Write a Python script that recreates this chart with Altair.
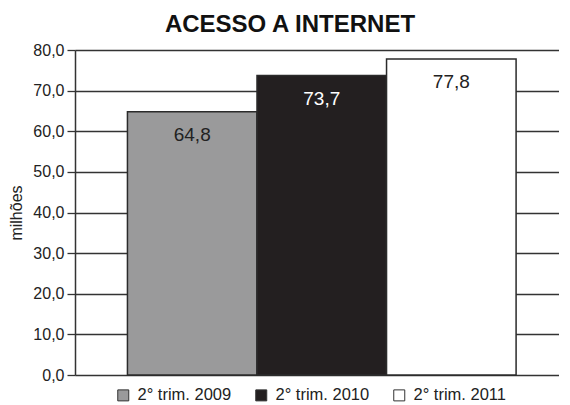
import altair as alt
import pandas as pd

periods = ["2° trim. 2009", "2° trim. 2010", "2° trim. 2011"]
values = [64.8, 73.7, 77.8]
fill_colors = ["#9a9a9b", "#231f20", "#ffffff"]
y_ticks = [0, 10, 20, 30, 40, 50, 60, 70, 80]

df = pd.DataFrame({"periodo": periods, "valor": values})

FONT = "Liberation Sans"

x_enc = alt.X(
    "periodo:N",
    sort=periods,
    axis=None,
    scale=alt.Scale(paddingInner=0, paddingOuter=0.368, align=0.55),
)
y_enc = alt.Y(
    "valor:Q",
    scale=alt.Scale(domain=[0, 80], nice=False),
    axis=alt.Axis(
        values=y_ticks,
        title="milhões",
        titleFont=FONT,
        titleFontSize=16,
        titleFontWeight="normal",
        titleColor="#222222",
        titlePadding=8,
        labelExpr="replace(format(datum.value, '.1f'), '.', ',')",
        labelFont=FONT,
        labelFontSize=16,
        labelColor="#222222",
        labelPadding=3,
        tickSize=8,
        tickColor="#333333",
        tickWidth=1.3,
        domainColor="#333333",
        domainWidth=1.5,
        grid=True,
        gridColor="#333333",
        gridWidth=1.3,
        gridOpacity=1,
    ),
)

bars = alt.Chart(df).mark_bar(stroke="#2b2b2b", strokeWidth=1.5, opacity=1).encode(
    x=x_enc,
    y=y_enc,
    color=alt.Color(
        "periodo:N",
        sort=periods,
        scale=alt.Scale(domain=periods, range=fill_colors),
        legend=alt.Legend(
            title=None,
            orient="none",
            legendX=40,
            legendY=337,
            direction="horizontal",
            symbolType="square",
            symbolSize=121,
            symbolStrokeColor="#333333",
            symbolStrokeWidth=1,
            symbolOpacity=1,
            labelFont=FONT,
            labelFontSize=16.5,
            labelColor="#222222",
            labelOffset=6,
            columnPadding=21,
        ),
    ),
)

labels = (
    alt.Chart(df)
    .transform_calculate(lbl="replace(format(datum.valor, '.1f'), '.', ',')")
    .mark_text(baseline="top", dy=14, fontSize=19, font=FONT)
    .encode(
        x=alt.X("periodo:N", sort=periods),
        y=alt.Y("valor:Q"),
        text="lbl:N",
        color=alt.condition(
            "datum.periodo == '2° trim. 2010'", alt.value("#ffffff"), alt.value("#222222")
        ),
    )
)

chart = (
    alt.layer(bars, labels)
    .properties(
        width=484,
        height=325,
        padding={"left": 0, "top": 5, "right": 0, "bottom": 0},
        title=alt.TitleParams(
            "ACESSO A INTERNET",
            font=FONT,
            fontSize=24,
            fontWeight="bold",
            color="#111111",
            anchor="middle",
            dx=-27,
            offset=5,
        ),
    )
    .configure_view(stroke=None)
    .configure(background="#ffffff")
)

chart.save("out.html", embed_options={"renderer": "svg", "actions": False})
